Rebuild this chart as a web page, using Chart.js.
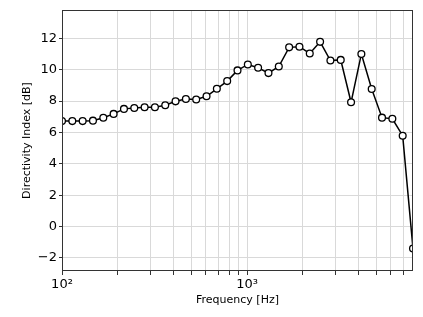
<!DOCTYPE html>
<html>
<head>
<meta charset="utf-8">
<script src="https://cdn.jsdelivr.net/npm/chart.js@4/dist/chart.umd.min.js"></script>
<style>
  html, body { margin: 0; padding: 0; background: #fff; }
  #wrap { width: 423px; height: 317px; }
</style>
</head>
<body>
<div id="wrap"><canvas id="diChart" width="423" height="317"></canvas></div>
<script>
// Frequencies [Hz]
const frequencies = [100, 113.7, 129.3, 147, 167.2, 190.1, 216.2, 245.8, 279.5, 317.8,
    361.4, 410.9, 467.3, 531.3, 604.2, 687, 781.2, 888.3, 1010, 1148,
    1306, 1485, 1689, 1920, 2183, 2483, 2823, 3210, 3650, 4150,
    4719, 5366, 6102, 6939, 7890];

// Directivity index [dB]
const directivity = [6.72, 6.72, 6.72, 6.75, 6.93, 7.18, 7.5, 7.56, 7.6, 7.6,
    7.73, 7.98, 8.13, 8.1, 8.3, 8.78, 9.27, 9.95, 10.33, 10.12,
    9.78, 10.2, 11.42, 11.46, 11.03, 11.77, 10.58, 10.62, 7.92, 11.0,
    8.77, 6.94, 6.87, 5.79, -1.4];

const xGridTicks = [100, 200, 300, 400, 500, 600, 700, 800, 900,
    1000, 2000, 3000, 4000, 5000, 6000, 7000];
const xTickLabels = { 100: '10\u00B2', 1000: '10\u00B3' };
const yTicks = [-2, 0, 2, 4, 6, 8, 10, 12];

const font = "'DejaVu Sans', sans-serif";

// Frame around the plot area
const framePlugin = {
    id: 'frame',
    afterDraw(chart) {
        const a = chart.chartArea;
        const c = chart.ctx;
        c.save();
        c.strokeStyle = '#333';
        c.lineWidth = 1;
        c.strokeRect(a.left + 0.5, a.top + 0.5, a.right - a.left - 1, a.bottom - a.top - 1);
        c.restore();
    }
};

const ctx = document.getElementById('diChart').getContext('2d');
new Chart(ctx, {
    type: 'line',
    data: {
        datasets: [{
            data: frequencies.map((f, i) => ({ x: f, y: directivity[i] })),
            borderColor: '#000',
            borderWidth: 1.5,
            pointRadius: 3.4,
            pointBorderWidth: 1.3,
            pointBackgroundColor: '#fff',
            pointBorderColor: '#000',
            tension: 0
        }]
    },
    options: {
        responsive: false,
        animation: false,
        layout: { padding: { left: 0, right: 10, top: 10, bottom: 0 } },
        plugins: {
            legend: { display: false },
            tooltip: { enabled: false }
        },
        scales: {
            x: {
                type: 'logarithmic',
                min: 100,
                max: 7890,
                afterBuildTicks(scale) {
                    scale.ticks = xGridTicks.map(v => ({ value: v }));
                },
                afterFit(scale) { scale.height = 46; },
                ticks: {
                    autoSkip: false,
                    maxRotation: 0,
                    padding: 2,
                    color: '#000',
                    font: { family: font, size: 13 },
                    callback: v => xTickLabels[v] || ''
                },
                grid: { color: '#d9d9d9', tickColor: '#333', tickLength: 4 },
                border: { display: false },
                title: {
                    display: true,
                    text: 'Frequency [Hz]',
                    color: '#000',
                    font: { family: font, size: 11 },
                    padding: { top: 0, bottom: 10 }
                }
            },
            y: {
                min: -2.83,
                max: 13.8,
                afterBuildTicks(scale) {
                    scale.ticks = yTicks.map(v => ({ value: v }));
                },
                afterFit(scale) { scale.width = 62; },
                ticks: {
                    padding: 2,
                    color: '#000',
                    font: { family: font, size: 13 },
                    callback: v => v < 0 ? '\u2212' + Math.abs(v) : String(v)
                },
                grid: { color: '#d9d9d9', tickColor: '#333', tickLength: 3 },
                border: { display: false },
                title: {
                    display: true,
                    text: 'Directivity Index [dB]',
                    color: '#000',
                    font: { family: font, size: 11 },
                    padding: { top: 21, bottom: 0 }
                }
            }
        }
    },
    plugins: [framePlugin]
});
</script>
</body>
</html>
